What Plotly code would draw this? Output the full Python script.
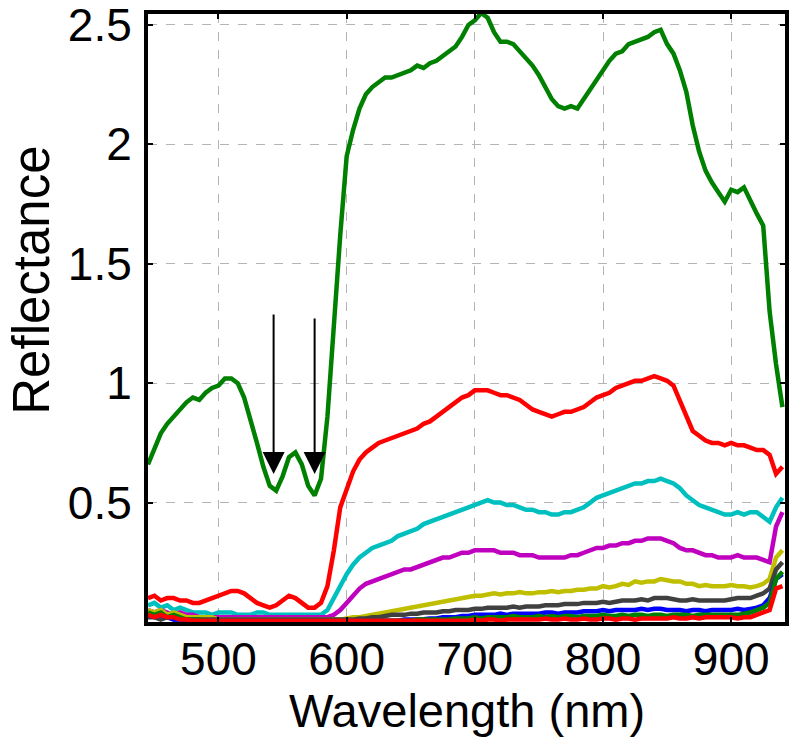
import plotly.graph_objects as go

wavelength = [445, 450, 455, 460, 465, 470, 475, 480, 485, 490,
              495, 500, 505, 510, 515, 520, 525, 530, 535, 540,
              545, 550, 555, 560, 565, 570, 575, 580, 585, 590,
              595, 600, 605, 610, 615, 620, 625, 630, 635, 640,
              645, 650, 655, 660, 665, 670, 675, 680, 685, 690,
              695, 700, 705, 710, 715, 720, 725, 730, 735, 740,
              745, 750, 755, 760, 765, 770, 775, 780, 785, 790,
              795, 800, 805, 810, 815, 820, 825, 830, 835, 840,
              845, 850, 855, 860, 865, 870, 875, 880, 885, 890,
              895, 900, 905, 910, 915, 920, 925, 930, 935, 940]

green_high = [0.66, 0.73, 0.79, 0.83, 0.86, 0.89, 0.92, 0.94, 0.93, 0.96,
              0.98, 0.99, 1.02, 1.02, 1.00, 0.94, 0.85, 0.75, 0.65, 0.57,
              0.55, 0.61, 0.69, 0.71, 0.66, 0.57, 0.53, 0.60, 0.86, 1.25,
              1.62, 1.95, 2.06, 2.15, 2.21, 2.24, 2.26, 2.28, 2.28, 2.29,
              2.30, 2.31, 2.33, 2.32, 2.34, 2.35, 2.37, 2.39, 2.41, 2.45,
              2.50, 2.52, 2.55, 2.53, 2.47, 2.43, 2.43, 2.42, 2.39, 2.36,
              2.33, 2.29, 2.24, 2.19, 2.16, 2.15, 2.16, 2.15, 2.19, 2.23,
              2.27, 2.31, 2.35, 2.38, 2.39, 2.42, 2.43, 2.44, 2.45, 2.47,
              2.48, 2.42, 2.38, 2.31, 2.22, 2.08, 1.97, 1.89, 1.84, 1.80,
              1.76, 1.81, 1.80, 1.82, 1.76, 1.71, 1.66, 1.30, 1.08, 0.90]

red_high = [0.10, 0.11, 0.09, 0.10, 0.10, 0.09, 0.09, 0.08, 0.08, 0.09,
            0.10, 0.11, 0.12, 0.13, 0.13, 0.12, 0.10, 0.08, 0.07, 0.06,
            0.07, 0.09, 0.11, 0.10, 0.08, 0.06, 0.06, 0.08, 0.15, 0.30,
            0.48, 0.56, 0.63, 0.68, 0.71, 0.73, 0.75, 0.76, 0.77, 0.78,
            0.79, 0.80, 0.81, 0.83, 0.84, 0.86, 0.88, 0.90, 0.92, 0.94,
            0.95, 0.97, 0.97, 0.97, 0.96, 0.95, 0.95, 0.94, 0.93, 0.91,
            0.89, 0.88, 0.87, 0.86, 0.87, 0.88, 0.88, 0.89, 0.90, 0.92,
            0.94, 0.95, 0.96, 0.98, 0.99, 1.00, 1.01, 1.01, 1.02, 1.03,
            1.02, 1.01, 0.99, 0.93, 0.86, 0.80, 0.78, 0.76, 0.75, 0.75,
            0.74, 0.75, 0.74, 0.74, 0.73, 0.72, 0.72, 0.70, 0.62, 0.65]

cyan = [0.07, 0.08, 0.06, 0.07, 0.05, 0.06, 0.05, 0.04, 0.04, 0.04,
        0.03, 0.04, 0.04, 0.04, 0.03, 0.03, 0.03, 0.04, 0.04, 0.03,
        0.03, 0.03, 0.03, 0.03, 0.03, 0.03, 0.03, 0.03, 0.05, 0.10,
        0.15, 0.20, 0.24, 0.27, 0.29, 0.31, 0.32, 0.33, 0.34, 0.36,
        0.37, 0.38, 0.39, 0.41, 0.42, 0.43, 0.44, 0.45, 0.46, 0.47,
        0.48, 0.49, 0.50, 0.51, 0.50, 0.50, 0.49, 0.49, 0.48, 0.47,
        0.47, 0.46, 0.46, 0.45, 0.45, 0.46, 0.46, 0.47, 0.48, 0.50,
        0.52, 0.53, 0.54, 0.55, 0.56, 0.57, 0.58, 0.58, 0.59, 0.59,
        0.60, 0.59, 0.58, 0.56, 0.53, 0.51, 0.49, 0.48, 0.47, 0.46,
        0.45, 0.45, 0.46, 0.45, 0.46, 0.46, 0.44, 0.42, 0.48, 0.52]

magenta = [0.05, 0.04, 0.05, 0.04, 0.03, 0.04, 0.03, 0.03, 0.02, 0.02,
           0.02, 0.02, 0.02, 0.02, 0.02, 0.02, 0.02, 0.02, 0.02, 0.02,
           0.02, 0.02, 0.02, 0.02, 0.02, 0.02, 0.02, 0.02, 0.02, 0.03,
           0.05, 0.08, 0.11, 0.14, 0.16, 0.17, 0.18, 0.19, 0.20, 0.21,
           0.22, 0.22, 0.23, 0.24, 0.25, 0.26, 0.27, 0.27, 0.28, 0.29,
           0.29, 0.30, 0.30, 0.30, 0.30, 0.29, 0.29, 0.29, 0.28, 0.28,
           0.28, 0.27, 0.27, 0.27, 0.27, 0.27, 0.28, 0.28, 0.29, 0.30,
           0.31, 0.31, 0.32, 0.32, 0.33, 0.33, 0.34, 0.34, 0.35, 0.35,
           0.35, 0.34, 0.33, 0.31, 0.30, 0.30, 0.29, 0.28, 0.28, 0.27,
           0.27, 0.27, 0.28, 0.27, 0.27, 0.27, 0.26, 0.25, 0.40, 0.46]

yellow = [0.05, 0.04, 0.05, 0.03, 0.04, 0.03, 0.02, 0.02, 0.02, 0.02,
          0.02, 0.01, 0.01, 0.01, 0.01, 0.01, 0.01, 0.01, 0.01, 0.01,
          0.01, 0.01, 0.01, 0.01, 0.01, 0.01, 0.01, 0.01, 0.01, 0.01,
          0.01, 0.015, 0.02, 0.02, 0.025, 0.03, 0.035, 0.04, 0.045, 0.05,
          0.055, 0.06, 0.065, 0.07, 0.075, 0.08, 0.085, 0.09, 0.095, 0.10,
          0.105, 0.11, 0.11, 0.115, 0.12, 0.115, 0.12, 0.12, 0.125, 0.12,
          0.12, 0.125, 0.125, 0.13, 0.125, 0.13, 0.13, 0.135, 0.135, 0.14,
          0.14, 0.15, 0.145, 0.15, 0.16, 0.155, 0.17, 0.165, 0.17, 0.17,
          0.18, 0.175, 0.17, 0.17, 0.16, 0.16, 0.15, 0.155, 0.15, 0.15,
          0.15, 0.155, 0.15, 0.15, 0.145, 0.15, 0.16, 0.18, 0.27, 0.30]

gray = [0.02, 0.02, 0.01, 0.02, 0.01, 0.01, 0.01, 0.01, 0.01, 0.01,
        0.01, 0.01, 0.01, 0.01, 0.01, 0.01, 0.01, 0.01, 0.01, 0.01,
        0.01, 0.01, 0.01, 0.01, 0.01, 0.01, 0.01, 0.01, 0.01, 0.01,
        0.01, 0.01, 0.01, 0.015, 0.015, 0.02, 0.02, 0.025, 0.03, 0.03,
        0.03, 0.035, 0.035, 0.04, 0.04, 0.04, 0.045, 0.045, 0.05, 0.05,
        0.05, 0.055, 0.055, 0.06, 0.06, 0.06, 0.06, 0.065, 0.06, 0.065,
        0.065, 0.065, 0.07, 0.07, 0.07, 0.075, 0.075, 0.075, 0.08, 0.08,
        0.08, 0.085, 0.08, 0.085, 0.09, 0.09, 0.09, 0.095, 0.09, 0.10,
        0.10, 0.10, 0.095, 0.09, 0.09, 0.095, 0.09, 0.09, 0.09, 0.09,
        0.09, 0.095, 0.10, 0.10, 0.10, 0.11, 0.12, 0.14, 0.22, 0.25]

blue = [0.03, 0.02, 0.03, 0.02, 0.01, 0.01, 0.01, 0.005, 0.005, 0.005,
        0.005, 0.005, 0.005, 0.005, 0.005, 0.005, 0.005, 0.005, 0.005, 0.005,
        0.005, 0.005, 0.005, 0.005, 0.005, 0.005, 0.005, 0.005, 0.005, 0.005,
        0.005, 0.005, 0.005, 0.005, 0.005, 0.005, 0.005, 0.005, 0.005, 0.005,
        0.01, 0.01, 0.01, 0.012, 0.015, 0.015, 0.02, 0.02, 0.02, 0.025,
        0.025, 0.03, 0.03, 0.03, 0.03, 0.035, 0.03, 0.035, 0.035, 0.035,
        0.035, 0.035, 0.04, 0.04, 0.035, 0.04, 0.04, 0.04, 0.045, 0.045,
        0.045, 0.05, 0.045, 0.05, 0.05, 0.05, 0.05, 0.055, 0.05, 0.055,
        0.055, 0.05, 0.05, 0.05, 0.045, 0.05, 0.05, 0.045, 0.05, 0.05,
        0.05, 0.05, 0.055, 0.05, 0.055, 0.06, 0.07, 0.10, 0.18, 0.20]

green_low = [0.04, 0.03, 0.04, 0.02, 0.03, 0.02, 0.01, 0.01, 0.01, 0.005,
             0.005, 0.005, 0.005, 0.005, 0.005, 0.005, 0.005, 0.005, 0.005, 0.005,
             0.005, 0.005, 0.005, 0.005, 0.005, 0.005, 0.005, 0.005, 0.005, 0.005,
             0.005, 0.005, 0.005, 0.005, 0.005, 0.005, 0.005, 0.005, 0.005, 0.005,
             0.005, 0.005, 0.01, 0.01, 0.01, 0.01, 0.012, 0.012, 0.015, 0.015,
             0.015, 0.02, 0.015, 0.02, 0.02, 0.02, 0.02, 0.025, 0.02, 0.02,
             0.02, 0.025, 0.02, 0.025, 0.02, 0.025, 0.025, 0.02, 0.025, 0.025,
             0.025, 0.03, 0.025, 0.025, 0.03, 0.025, 0.03, 0.03, 0.025, 0.03,
             0.03, 0.025, 0.03, 0.03, 0.03, 0.025, 0.03, 0.03, 0.03, 0.03,
             0.03, 0.03, 0.03, 0.035, 0.04, 0.05, 0.06, 0.08, 0.18, 0.21]

red_low = [0.03, 0.02, 0.03, 0.02, 0.02, 0.01, 0.01, 0.005, 0.005, 0.005,
           0.005, 0.005, 0.005, 0.005, 0.005, 0.005, 0.005, 0.005, 0.005, 0.005,
           0.005, 0.005, 0.005, 0.005, 0.005, 0.005, 0.005, 0.005, 0.005, 0.005,
           0.005, 0.005, 0.005, 0.005, 0.005, 0.005, 0.005, 0.005, 0.005, 0.005,
           0.005, 0.005, 0.005, 0.005, 0.005, 0.005, 0.005, 0.005, 0.005, 0.005,
           0.005, 0.01, 0.005, 0.01, 0.01, 0.005, 0.01, 0.01, 0.01, 0.01,
           0.01, 0.01, 0.015, 0.01, 0.01, 0.015, 0.01, 0.01, 0.015, 0.01,
           0.01, 0.015, 0.015, 0.01, 0.015, 0.015, 0.01, 0.015, 0.015, 0.015,
           0.015, 0.015, 0.02, 0.015, 0.015, 0.02, 0.015, 0.02, 0.02, 0.02,
           0.02, 0.02, 0.015, 0.02, 0.02, 0.03, 0.04, 0.05, 0.14, 0.15]

series = [
    ("green_high", green_high, "#008000"),
    ("red_high", red_high, "#FF0000"),
    ("cyan", cyan, "#00BFBF"),
    ("magenta", magenta, "#BF00BF"),
    ("yellow", yellow, "#BFBF00"),
    ("gray", gray, "#404040"),
    ("blue", blue, "#0000FF"),
    ("green_low", green_low, "#008000"),
    ("red_low", red_low, "#FF0000"),
]

arrow_x = [543, 575]
arrow_tip_y = [0.62, 0.62]
arrow_len_px = [161, 157]

x_ticks = [500, 600, 700, 800, 900]
y_ticks = [0.5, 1, 1.5, 2, 2.5]
y_tick_text = ["0.5", "1", "1.5", "2", "2.5"]

x_title = "Wavelength (nm)"
y_title = "Reflectance"

fig = go.Figure()
for name, vals, col in series:
    fig.add_trace(go.Scatter(x=wavelength, y=vals, mode="lines", name=name,
                             line=dict(color=col, width=4.5), showlegend=False))

for ax_, ay_, ln in zip(arrow_x, arrow_tip_y, arrow_len_px):
    fig.add_annotation(x=ax_, y=ay_, ax=0, ay=-ln, xref="x", yref="y",
                       showarrow=True, arrowhead=2, arrowwidth=2, arrowsize=2.2,
                       arrowcolor="black", text="", standoff=0)

font_family = "Liberation Sans, Arial, sans-serif"
axis_common = dict(showline=True, linecolor="black", linewidth=4, mirror="ticks",
                   ticks="inside", ticklen=5, tickwidth=2, tickcolor="black",
                   showgrid=True, gridcolor="#b4b4b4", griddash="dash", gridwidth=1,
                   zeroline=False, ticklabeloverflow="allow",
                   tickfont=dict(family=font_family, size=46, color="black"))

fig.update_xaxes(range=[445, 942], tickvals=x_ticks, ticklabelstandoff=-6, **axis_common)
fig.update_yaxes(range=[0, 2.546], tickvals=y_ticks, ticktext=y_tick_text,
                 ticklabelstandoff=3, **axis_common)

# axis titles placed as annotations (paper coordinates)
fig.add_annotation(text=x_title, xref="paper", yref="paper", x=0.5, y=-0.145,
                   xanchor="center", yanchor="middle", showarrow=False,
                   font=dict(family=font_family, size=47, color="black"))
fig.add_annotation(text=y_title, xref="paper", yref="paper", x=-0.183, y=0.562,
                   xanchor="center", yanchor="middle", textangle=-90, showarrow=False,
                   font=dict(family=font_family, size=51, color="black"))

fig.update_layout(width=800, height=745, margin=dict(l=148, r=15, t=14, b=123, autoexpand=False),
                  plot_bgcolor="white", paper_bgcolor="white",
                  font=dict(family=font_family, color="black"))

fig.write_html("out.html", config={"displayModeBar": False},
               post_script="document.body.style.margin='0';")
